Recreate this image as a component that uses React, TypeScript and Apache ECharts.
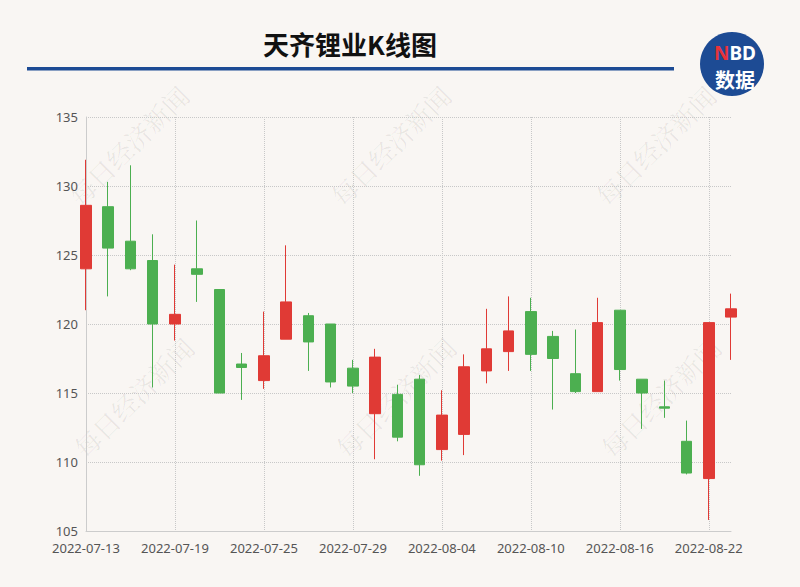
import React, { useEffect, useRef } from "react";
import * as echarts from "echarts";

const dates = [
  "2022-07-13", "2022-07-14", "2022-07-15", "2022-07-18", "2022-07-19",
  "2022-07-20", "2022-07-21", "2022-07-22", "2022-07-25", "2022-07-26",
  "2022-07-27", "2022-07-28", "2022-07-29", "2022-08-01", "2022-08-02",
  "2022-08-03", "2022-08-04", "2022-08-05", "2022-08-08", "2022-08-09",
  "2022-08-10", "2022-08-11", "2022-08-12", "2022-08-15", "2022-08-16",
  "2022-08-17", "2022-08-18", "2022-08-19", "2022-08-22", "2022-08-23",
];
const openValues = [
  124.0, 128.5, 126.0, 124.6, 120.0, 124.0, 122.5, 117.1, 115.9, 118.9,
  120.6, 120.0, 116.8, 113.5, 114.9, 116.0, 110.9, 112.0, 116.6, 118.0,
  120.9, 119.1, 116.4, 115.1, 121.0, 116.0, 114.0, 111.5, 108.8, 120.5,
];
const closeValues = [
  128.6, 125.5, 124.0, 120.0, 120.7, 123.6, 115.0, 116.85, 117.7, 121.6,
  118.7, 115.8, 115.5, 117.6, 111.8, 109.8, 113.4, 116.9, 118.2, 119.5,
  117.8, 117.5, 115.1, 120.1, 116.7, 115.0, 113.9, 109.2, 120.1, 121.1,
];
const lowValues = [
  121.0, 122.0, 123.9, 115.4, 118.8, 121.6, 115.0, 114.5, 115.3, 118.9,
  116.6, 115.4, 115.0, 110.2, 111.5, 109.0, 110.1, 110.5, 115.7, 116.6,
  116.6, 113.8, 115.0, 115.1, 115.9, 112.4, 113.2, 109.1, 105.8, 117.4,
];
const highValues = [
  131.9, 130.3, 131.5, 126.5, 124.3, 127.5, 122.5, 117.9, 120.9, 125.7,
  120.8, 120.0, 117.4, 118.2, 115.6, 116.3, 115.2, 117.8, 121.1, 122.0,
  121.9, 119.5, 119.6, 121.9, 121.0, 116.0, 115.9, 113.0, 120.1, 122.2,
];

const titleText = "天齐锂业K线图";
const watermarkText = "每日经济新闻";

const RED = "#e03a35";
const GREEN = "#4caf50";
const BLUE = "#1d4b94";

export default function App() {
  const ref = useRef<HTMLDivElement>(null);

  useEffect(() => {
    if (!ref.current) return;
    const chart = echarts.init(ref.current, null, { renderer: "svg" });

    const kdata = dates.map((_, i) => [openValues[i], closeValues[i], lowValues[i], highValues[i]]);

    const wmPositions = [
      [128, 145], [390, 145], [655, 145],
      [133, 397], [395, 397], [660, 397],
    ];
    const watermarks = wmPositions.map(([x, y]) => ({
      type: "text",
      x,
      y,
      rotation: Math.PI / 4,
      z: 0,
      silent: true,
      style: {
        text: watermarkText,
        fill: "rgba(0,0,0,0.07)",
        font: '26px "Noto Serif CJK SC", "Noto Sans CJK SC", serif',
        align: "center",
        verticalAlign: "middle",
      },
    }));

    chart.setOption({
      animation: false,
      backgroundColor: "#f9f6f3",
      grid: { left: 86, right: 69, top: 117, bottom: 56, containLabel: false },
      xAxis: {
        type: "category",
        data: dates,
        boundaryGap: false,
        axisLine: { show: true, lineStyle: { color: "#cccccc", width: 1 } },
        axisTick: { show: false },
        axisLabel: {
          interval: 3,
          color: "#555555",
          fontSize: 13,
          fontFamily: '"Noto Sans", sans-serif',
          margin: 10,
        },
        splitLine: {
          show: true,
          interval: 3,
          lineStyle: { type: "dotted", color: "#c8c8c8", width: 1 },
        },
      },
      yAxis: {
        type: "value",
        min: 105,
        max: 135,
        interval: 5,
        axisLine: { show: true, lineStyle: { color: "#cccccc", width: 1 } },
        axisTick: { show: false },
        axisLabel: {
          color: "#555555",
          fontSize: 13,
          fontFamily: '"Noto Sans", sans-serif',
          margin: 8,
        },
        splitLine: {
          show: true,
          lineStyle: { type: "dotted", color: "#c8c8c8", width: 1 },
        },
      },
      series: [
        {
          type: "candlestick",
          data: kdata,
          barWidth: 11,
          clip: false,
          itemStyle: {
            color: RED,
            color0: GREEN,
            borderColor: RED,
            borderColor0: GREEN,
            borderWidth: 1,
          },
        },
      ],
      graphic: [
        ...watermarks,
        {
          type: "text",
          x: 350,
          y: 43,
          style: {
            text: titleText,
            fill: "#111111",
            font: 'bold 26px "Noto Sans CJK SC", sans-serif',
            align: "center",
            verticalAlign: "middle",
          },
        },
        {
          type: "rect",
          shape: { x: 27, y: 67, width: 647, height: 3.5 },
          style: { fill: BLUE },
        },
        {
          type: "circle",
          shape: { cx: 732, cy: 64, r: 32 },
          style: { fill: BLUE },
        },
        {
          type: "text",
          x: 735,
          y: 53,
          style: {
            text: "{n|N}{b|BD}",
            align: "center",
            verticalAlign: "middle",
            rich: {
              n: { fill: "#e8333a", font: 'bold 19px "Noto Sans", sans-serif', lineHeight: 19 },
              b: { fill: "#ffffff", font: 'bold 19px "Noto Sans", sans-serif', lineHeight: 19 },
            },
          },
        },
        {
          type: "text",
          x: 735,
          y: 79,
          style: {
            text: "数据",
            fill: "#ffffff",
            font: 'bold 20px "Noto Sans CJK SC", sans-serif',
            lineHeight: 20,
            align: "center",
            verticalAlign: "middle",
          },
        },
      ],
    });

    return () => {
      chart.dispose();
    };
  }, []);

  return (
    <div
      ref={ref}
      style={{ position: "fixed", left: 0, top: 0, width: 800, height: 587 }}
    />
  );
}
